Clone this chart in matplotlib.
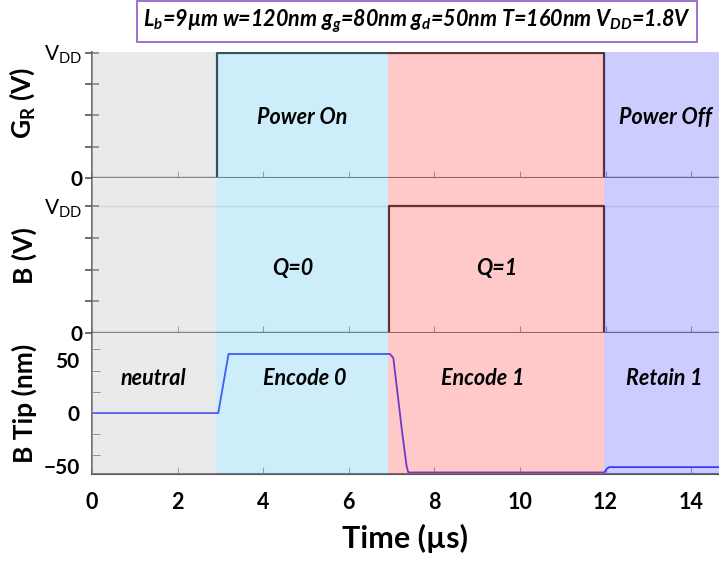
import numpy as np
import matplotlib
matplotlib.use('Agg')
import matplotlib.pyplot as plt
from matplotlib.ticker import MultipleLocator

plt.rcParams['font.family'] = ['Lato', 'DejaVu Sans']
plt.rcParams['mathtext.fontset'] = 'custom'
plt.rcParams['mathtext.rm'] = 'Lato'
plt.rcParams['mathtext.it'] = 'Lato:italic:bold'
plt.rcParams['mathtext.bf'] = 'Lato:bold'

# DATA
VDD = 1.8
t_gr = [0, 2.93, 2.93, 11.96, 11.96, 14.7]
gr = [0, 0, VDD, VDD, 0, 0]

t_b = [0, 6.95, 6.95, 11.96, 11.96, 14.7]
b = [0, 0, VDD, VDD, 0, 0]

t_tip = [0, 2.95, 3.19, 6.96, 7.04, 7.12, 7.24, 7.35, 7.39, 11.97, 12.02, 12.08, 14.7]
tip = [0, 0, 55.7, 55.7, 52, 25, -16, -50, -56, -56, -53, -51, -51]

# phase regions
edges = [0, 2.9, 6.92, 11.97, 14.7]
span_colors = ['#cccccc', '#80d2f0', '#ff7979', '#8080ff']
span_alpha = 0.4

top_labels = [(4.9, 'Power On'), (13.4, 'Power Off')]
mid_labels = [(4.7, 'Q=0'), (9.45, 'Q=1')]
bot_labels = [(1.43, 'neutral'), (4.97, 'Encode 0'), (9.14, 'Encode 1'), (13.37, 'Retain 1')]

title = r'$L_b$=9µm w=120nm $g_g$=80nm $g_d$=50nm T=160nm $V_{DD}$=1.8V'

fig = plt.figure(figsize=(7.19, 5.61), dpi=100)
L = 92/719
W = 1 - L
ax1 = fig.add_axes([L, 1-178/561, W, 126/561])
ax2 = fig.add_axes([L, 1-333/561, W, 155/561])
ax3 = fig.add_axes([L, 1-473.5/561, W, 140.5/561])

xmax = (719-92)/42.8
spine_col = '#555555'

for ax in (ax1, ax2, ax3):
    for i in range(len(edges)-1):
        ax.axvspan(edges[i], edges[i+1], color=span_colors[i], alpha=span_alpha, lw=0, zorder=3)
    ax.set_xlim(0, xmax)
    ax.spines['top'].set_visible(False)
    ax.spines['right'].set_visible(False)
    ax.spines['left'].set_color(spine_col)
    ax.spines['bottom'].set_color(spine_col)
    ax.spines['bottom'].set_linewidth(1.5)
    ax.spines['left'].set_linewidth(1.2)
    ax.set_xticks(np.arange(0, 15, 2))
    ax.tick_params(axis='x', direction='in', length=5, color='#888888', labelsize=15.5, pad=13)
    for lab in ax.get_xticklabels():
        lab.set_fontweight('bold')

ax1.tick_params(axis='x', labelbottom=False)
ax2.tick_params(axis='x', labelbottom=False)

# G_R panel
ax1.plot(t_gr, gr, color='black', lw=1.6, zorder=2)
ax1.set_ylim(0, 1.81)
# B panel
ax2.axhline(VDD, color='#dddddd', lw=1, zorder=1)
ax2.plot(t_b, b, color='black', lw=1.6, zorder=2)
ax2.set_ylim(0, 2.197)

for ax in (ax1, ax2):
    ax.set_yticks([0, 0.45, 0.9, 1.35, VDD])
    ax.set_yticklabels(['0', '', '', '', r'$\mathrm{V_{DD}}$'])
    ax.tick_params(axis='y', direction='inout', length=10, width=1.2, color=spine_col, labelsize=15, pad=2)
    ax.get_yticklabels()[0].set_fontweight('bold')

# B tip panel
ax3.plot(t_tip, tip, color='#1010ff', lw=1.3, zorder=2)
ax3.set_ylim(-57, 75.5)
ax3.set_yticks([-50, 0, 50])
ax3.yaxis.set_minor_locator(MultipleLocator(20))
ax3.tick_params(axis='y', which='major', length=0, labelsize=15, pad=9)
ax3.tick_params(axis='y', which='minor', direction='in', length=6, color=spine_col)
for lab in ax3.get_yticklabels():
    lab.set_fontweight('bold')

ax1.set_ylabel(r'G$_\mathbf{R}$ (V)', fontsize=19, fontweight='bold')
ax2.set_ylabel('B (V)', fontsize=19, fontweight='bold')
ax3.set_ylabel('B Tip (nm)', fontsize=19, fontweight='bold')
ax1.yaxis.set_label_coords(-0.087, 0.6)
ax2.yaxis.set_label_coords(-0.087, 0.5)
ax3.yaxis.set_label_coords(-0.087, 0.5)

ax3.set_xlabel('Time (µs)', fontsize=22, fontweight='bold')
ax3.xaxis.set_label_coords(0.5, -0.36)

kw = dict(fontsize=15.5, fontweight='bold', style='italic', ha='center', va='center', zorder=5)
for x, s in top_labels:
    ax1.text(x, 0.87, s, **kw)
for x, s in mid_labels:
    ax2.text(x, 0.92, s, **kw)
for x, s in bot_labels:
    ax3.text(x, 33, s, **kw)

fig.text(0.58, 0.962, title, fontsize=15.5, fontweight='bold', style='italic',
         ha='center', va='center',
         bbox=dict(boxstyle='square,pad=0.3', fc='white', ec='#9966cc', lw=1.3))

fig.savefig('out.png', dpi=100)
